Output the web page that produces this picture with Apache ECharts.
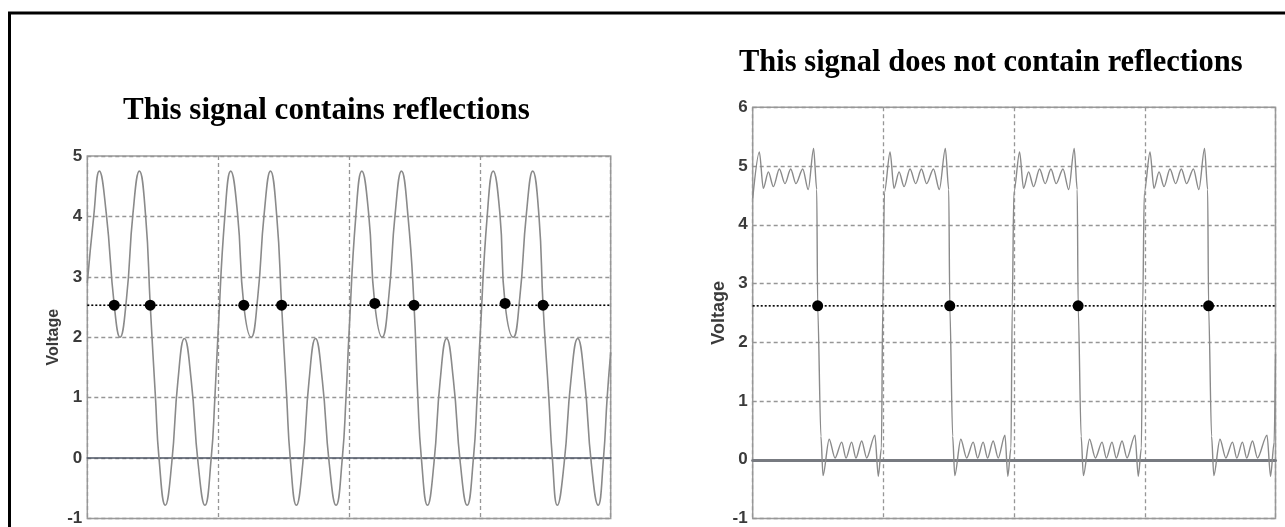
<!DOCTYPE html>
<html>
<head>
<meta charset="utf-8">
<script src="https://cdn.jsdelivr.net/npm/echarts@6/dist/echarts.min.js"></script>
<style>
  html, body { margin: 0; padding: 0; background: #fff; }
  #chart { width: 1285px; height: 527px; }
</style>
</head>
<body>
<div id="chart"></div>
<script>
// ---- Titles and axis text ----
const leftTitle = 'This signal contains reflections';
const rightTitle = 'This signal does not contain reflections';
const yAxisName = 'Voltage';

// ---- Left signal (with reflections): time (x, 0..4) and voltage ----
const reflX = [
  0.000, 0.049, 0.092, 0.145, 0.206, 0.250, 0.300, 0.349, 0.398, 0.446, 0.481, 0.521, 0.548, 0.596, 0.645, 0.693, 0.742, 0.794, 0.847, 0.899, 0.947, 0.975,
  1.000, 1.051, 1.096, 1.148, 1.196, 1.252, 1.302, 1.352, 1.400, 1.448, 1.485, 1.524, 1.551, 1.598, 1.647, 1.695, 1.744, 1.796, 1.849, 1.901, 1.949, 1.977,
  2.001, 2.052, 2.098, 2.150, 2.197, 2.253, 2.303, 2.353, 2.401, 2.451, 2.497, 2.526, 2.553, 2.600, 2.649, 2.697, 2.746, 2.798, 2.851, 2.903, 2.951, 2.979,
  3.004, 3.056, 3.102, 3.153, 3.193, 3.255, 3.305, 3.356, 3.404, 3.452, 3.483, 3.527, 3.554, 3.592, 3.644, 3.696, 3.748, 3.800, 3.852, 3.904, 3.945, 3.973,
  4.000
];
const reflY = [
  2.90, 4.00, 4.75, 4.05, 2.53, 2.00, 2.65, 4.05, 4.75, 4.00, 2.53, 1.00, 0.00, -0.78, -0.09, 1.29, 1.98, 1.29, -0.09, -0.78, 0.00, 1.00,
  2.10, 4.00, 4.75, 4.05, 2.53, 2.00, 2.65, 4.05, 4.75, 4.00, 2.53, 1.00, 0.00, -0.78, -0.09, 1.29, 1.98, 1.29, -0.09, -0.78, 0.00, 1.00,
  2.10, 4.00, 4.75, 4.05, 2.55, 2.00, 2.65, 4.05, 4.75, 4.00, 2.53, 1.00, 0.00, -0.78, -0.09, 1.29, 1.98, 1.29, -0.09, -0.78, 0.00, 1.00,
  2.10, 4.00, 4.75, 4.05, 2.55, 2.00, 2.65, 4.05, 4.75, 4.00, 2.53, 1.00, 0.00, -0.78, -0.09, 1.29, 1.98, 1.29, -0.09, -0.78, 0.00, 1.00,
  1.75
];
const reflThreshold = 2.53;
const reflDotX = [0.206, 0.481, 1.196, 1.485, 2.197, 2.497, 3.193, 3.483];
const reflDotY = [2.53, 2.53, 2.53, 2.53, 2.56, 2.53, 2.56, 2.53];

// ---- Right signal (no reflections) ----
const cleanX = [
  0.000, 0.051, 0.081, 0.120, 0.158, 0.204, 0.247, 0.291, 0.331, 0.383, 0.425, 0.466, 0.490, 0.497, 0.522, 0.538, 0.585, 0.630, 0.681, 0.714, 0.757, 0.790, 0.834, 0.872, 0.935, 0.961, 0.985, 0.995, 1.008,
  1.051, 1.081, 1.120, 1.158, 1.204, 1.247, 1.291, 1.331, 1.383, 1.428, 1.474, 1.500, 1.508, 1.530, 1.546, 1.592, 1.637, 1.687, 1.721, 1.763, 1.797, 1.840, 1.878, 1.930, 1.952, 1.976, 1.986, 1.998,
  2.042, 2.072, 2.111, 2.149, 2.195, 2.238, 2.282, 2.322, 2.374, 2.418, 2.460, 2.483, 2.490, 2.513, 2.530, 2.577, 2.622, 2.673, 2.706, 2.749, 2.782, 2.826, 2.864, 2.925, 2.950, 2.974, 2.984, 2.996,
  3.040, 3.070, 3.109, 3.147, 3.193, 3.236, 3.280, 3.320, 3.372, 3.414, 3.457, 3.481, 3.488, 3.511, 3.528, 3.575, 3.620, 3.671, 3.704, 3.747, 3.780, 3.824, 3.862, 3.935, 3.962, 3.990, 4.000
];
const cleanY = [
  4.45, 5.24, 4.62, 4.90, 4.65, 4.95, 4.70, 4.95, 4.70, 4.95, 4.60, 5.30, 4.60, 2.62, 0.40, -0.27, 0.35, 0.03, 0.30, 0.03, 0.30, 0.03, 0.32, 0.03, 0.42, -0.28, 0.20, 2.62, 4.55,
  5.24, 4.62, 4.90, 4.65, 4.95, 4.70, 4.95, 4.70, 4.95, 4.60, 5.30, 4.60, 2.62, 0.40, -0.27, 0.35, 0.03, 0.30, 0.03, 0.30, 0.03, 0.32, 0.03, 0.42, -0.28, 0.20, 2.62, 4.55,
  5.24, 4.62, 4.90, 4.65, 4.95, 4.70, 4.95, 4.70, 4.95, 4.60, 5.30, 4.60, 2.62, 0.40, -0.27, 0.35, 0.03, 0.30, 0.03, 0.30, 0.03, 0.32, 0.03, 0.42, -0.28, 0.20, 2.62, 4.55,
  5.24, 4.62, 4.90, 4.65, 4.95, 4.70, 4.95, 4.70, 4.95, 4.60, 5.30, 4.60, 2.62, 0.40, -0.27, 0.35, 0.03, 0.30, 0.03, 0.30, 0.03, 0.32, 0.03, 0.42, -0.28, 0.30, 1.80
];
const cleanThreshold = 2.62;
const cleanDotX = [0.497, 1.508, 2.490, 3.488];
const cleanDotY = [2.62, 2.62, 2.62, 2.62];

// ---- Axis ranges / ticks ----
const timeRange = [0, 4];
const leftVoltRange = [-1, 5];
const rightVoltRange = [-1, 6];
const tickStep = 1;

const zip = (xs, ys) => xs.map((x, i) => [x, ys[i]]);

const chart = echarts.init(document.getElementById('chart'), null, { renderer: 'canvas' });

const gridLine = { show: true, lineStyle: { color: '#969696', width: 1.3, type: [4, 3] } };
const tickFont = { fontSize: 17, fontWeight: 'bold', color: '#3a3a3a', fontFamily: 'Liberation Sans, Arial, sans-serif', margin: 5 };

function xAxisFor(idx, zeroColor, zeroWidth) {
  return {
    gridIndex: idx, type: 'value', min: timeRange[0], max: timeRange[1], interval: tickStep,
    axisLabel: { show: false }, axisTick: { show: false },
    axisLine: { show: true, onZero: true, lineStyle: { color: zeroColor, width: zeroWidth } },
    splitLine: gridLine
  };
}
function yAxisFor(idx, range, nameSize, gap) {
  return {
    gridIndex: idx, type: 'value', min: range[0], max: range[1], interval: tickStep,
    axisLabel: tickFont, axisTick: { show: false }, axisLine: { show: false },
    splitLine: gridLine,
    name: yAxisName, nameLocation: 'middle', nameGap: gap,
    nameTextStyle: { fontSize: nameSize, fontWeight: 'bold', color: '#3a3a3a', fontFamily: 'Liberation Sans, Arial, sans-serif' }
  };
}

const option = {
  animation: false,
  backgroundColor: '#fff',
  grid: [
    { left: 87.3, top: 156, width: 523.4, height: 364, show: true, borderColor: '#9c9c9c', borderWidth: 1.5, backgroundColor: 'transparent' },
    { left: 752.7, top: 107.3, width: 522.8, height: 411.7, show: true, borderColor: '#9c9c9c', borderWidth: 1.5, backgroundColor: 'transparent' }
  ],
  xAxis: [xAxisFor(0, '#4d5566', 1.6), xAxisFor(1, '#777a80', 3)],
  yAxis: [yAxisFor(0, leftVoltRange, 16, 26), yAxisFor(1, rightVoltRange, 18, 25)],
  series: [
    { type: 'line', xAxisIndex: 0, yAxisIndex: 0, data: zip(reflX, reflY), showSymbol: false, symbol: 'none',
      smooth: 0.5, lineStyle: { color: '#8a8a8a', width: 1.6 }, z: 3 },
    { type: 'line', xAxisIndex: 0, yAxisIndex: 0, data: [[timeRange[0], reflThreshold], [timeRange[1], reflThreshold]],
      symbol: 'none', lineStyle: { color: '#000', width: 1.6, type: [2, 2] }, z: 4 },
    { type: 'scatter', xAxisIndex: 0, yAxisIndex: 0, data: zip(reflDotX, reflDotY), symbolSize: 11,
      itemStyle: { color: '#000', opacity: 1 }, z: 5 },
    { type: 'line', xAxisIndex: 1, yAxisIndex: 1, data: zip(cleanX, cleanY), showSymbol: false, symbol: 'none',
      smooth: 0.3, smoothMonotone: 'x', lineStyle: { color: '#8a8a8a', width: 1.4 }, z: 3 },
    { type: 'line', xAxisIndex: 1, yAxisIndex: 1, data: [[timeRange[0], cleanThreshold], [timeRange[1], cleanThreshold]],
      symbol: 'none', lineStyle: { color: '#000', width: 1.6, type: [2, 2] }, z: 4 },
    { type: 'scatter', xAxisIndex: 1, yAxisIndex: 1, data: zip(cleanDotX, cleanDotY), symbolSize: 11,
      itemStyle: { color: '#000', opacity: 1 }, z: 5 }
  ],
  graphic: [
    { type: 'rect', silent: true, shape: { x: 9.5, y: 13, width: 1400, height: 700 },
      style: { fill: 'none', stroke: '#000', lineWidth: 3 } },
    { type: 'text', silent: true, x: 123, y: 111,
      style: { text: leftTitle, fill: '#000', font: 'bold 31px "Liberation Serif", "Times New Roman", serif', align: 'left', verticalAlign: 'middle' } },
    { type: 'text', silent: true, x: 739, y: 63.5,
      style: { text: rightTitle, fill: '#000', font: 'bold 30.5px "Liberation Serif", "Times New Roman", serif', align: 'left', verticalAlign: 'middle' } }
  ]
};
chart.setOption(option);
</script>
</body>
</html>
